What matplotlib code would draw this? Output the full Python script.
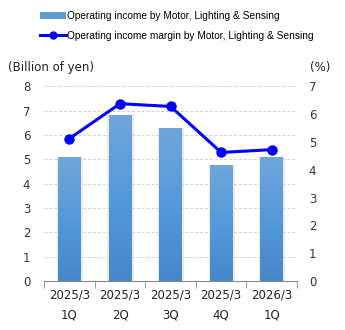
import numpy as np
import matplotlib
matplotlib.use("Agg")
import matplotlib.pyplot as plt
from matplotlib.colors import LinearSegmentedColormap
from matplotlib.lines import Line2D
from matplotlib.patches import Patch

periods = ["2025/3\n1Q", "2025/3\n2Q", "2025/3\n3Q", "2025/3\n4Q", "2026/3\n1Q"]
income = [5.08, 6.82, 6.30, 4.75, 5.08]
margin = [5.12, 6.37, 6.27, 4.62, 4.72]

fig = plt.figure(figsize=(3.45, 3.30), dpi=100)
ax = fig.add_axes([0.128, 0.148, 0.733, 0.591])
ax2 = ax.twinx()

x = np.arange(len(periods))
width = 0.45

# bar shadows
ax.bar(x + 0.01, income, width + 0.07, color="#d4d4d4", alpha=0.45, zorder=1)
bars = ax.bar(x, income, width, color="#5b9bd5", zorder=2)

# vertical gradient inside each bar
cmap = LinearSegmentedColormap.from_list("bar", ["#6fa6dc", "#5599d9", "#4687c8"])
grad = np.linspace(0, 1, 256).reshape(-1, 1)
for b in bars:
    bx, by = b.get_x(), b.get_y()
    bw, bh = b.get_width(), b.get_height()
    im = ax.imshow(grad, cmap=cmap, aspect="auto", origin="upper",
                   extent=[bx, bx + bw, by, by + bh], zorder=3)
    im.set_clip_path(b)

ax.set_xlim(-0.5, len(periods) - 0.5)
ax.set_ylim(0, 8)
ax.set_yticks(range(0, 9))
ax.yaxis.grid(True, color="#d0d0d0", linestyle=(0, (3, 2)), linewidth=0.7)
ax.set_axisbelow(True)

ax2.plot(x, margin, color="#0000ff", linewidth=2.2, marker="o", markersize=6.5, zorder=5)
ax2.set_ylim(0, 7)
ax2.set_yticks(range(0, 8))

for a in (ax, ax2):
    for s in ("top", "left", "right", "bottom"):
        a.spines[s].set_visible(False)
    a.tick_params(axis="y", length=0, labelsize=8.5, labelcolor="#333333")

ax.tick_params(axis="y", pad=10)
ax2.tick_params(axis="y", pad=8.5)

ax.spines["bottom"].set_visible(True)
ax.spines["bottom"].set_color("#888888")
ax.set_xticks(x)
ax.set_xticklabels(periods, fontsize=8.5, color="#222222", linespacing=1.75)
ax.tick_params(axis="x", length=0, pad=5)
ax.set_xticks(np.arange(-0.5, len(periods)), minor=True)
ax.tick_params(axis="x", which="minor", length=5, color="#888888", direction="out")

fig.text(0.022, 0.785, "(Billion of yen)", fontsize=8.5, color="#222222")
fig.text(0.958, 0.785, "(%)", fontsize=8.5, color="#222222", ha="right")

handles = [Patch(facecolor="#5b9bd5"),
           Line2D([], [], color="#0000ff", linewidth=2.2, marker="o", markersize=5)]
labels = ["Operating income by Motor, Lighting & Sensing",
          "Operating income margin by Motor, Lighting & Sensing"]
fig.legend(handles, labels, loc="upper left", bbox_to_anchor=(0.09, 0.995),
           frameon=False, handlelength=2.5, handletextpad=0.15, labelspacing=1.0,
           prop={"family": ["Liberation Sans", "DejaVu Sans"], "size": 7.3})

fig.savefig("out.png", dpi=100)
